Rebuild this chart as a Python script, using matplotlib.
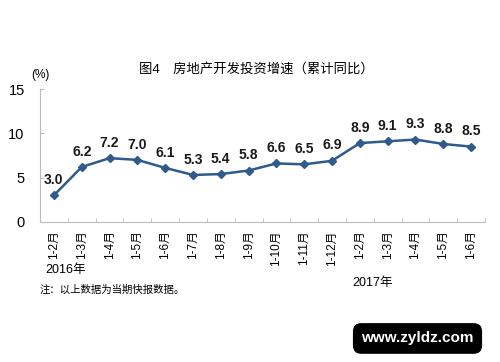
import matplotlib.pyplot as plt
import numpy as np

plt.rcParams['font.family'] = ['Liberation Sans', 'Noto Sans CJK SC', 'DejaVu Sans']

months = ['1-2月', '1-3月', '1-4月', '1-5月', '1-6月', '1-7月', '1-8月', '1-9月',
          '1-10月', '1-11月', '1-12月', '1-2月', '1-3月', '1-4月', '1-5月', '1-6月']
growth = [3.0, 6.2, 7.2, 7.0, 6.1, 5.3, 5.4, 5.8, 6.6, 6.5, 6.9, 8.9, 9.1, 9.3, 8.8, 8.5]
yticks = [0, 5, 10, 15]

fig = plt.figure(figsize=(5, 3.62), dpi=100)
ax = fig.add_axes([0.08, 0.387, 0.89, 0.367])

x = np.arange(len(months))
ax.plot(x, growth, color='#2F5A8C', lw=1.8, marker='D', ms=4.5, mfc='#2F5A8C', mec='#2F5A8C')
for xi, v in zip(x, growth):
    ax.annotate(f'{v:.1f}', (xi, v), xytext=(0, 6), textcoords='offset points',
                ha='center', va='bottom', fontsize=10, fontweight='bold', color='#1a1a1a')

ax.set_xlim(-0.45, len(months) - 0.55)
ax.set_ylim(0, 15)
ax.set_yticks(yticks)
ax.set_yticklabels([str(t) for t in yticks], fontsize=10.5)
ax.set_xticks(x)
ax.set_xticklabels(months, rotation=90, fontsize=8.5)
ax.set_xticks(np.arange(-0.5, len(months), 1), minor=True)
ax.tick_params(axis='x', which='major', length=0, pad=6)
ax.tick_params(axis='x', which='minor', direction='in', length=3, color='#bbbbbb')
ax.tick_params(axis='y', direction='in', length=3, color='#bbbbbb', pad=11)

for s in ['top', 'right']:
    ax.spines[s].set_visible(False)
for s in ['left', 'bottom']:
    ax.spines[s].set_color('#bbbbbb')

fig.text(0.512, 0.80, '图4　房地产开发投资增速（累计同比）', ha='center', fontsize=9.6)
fig.text(0.062, 0.785, '(%)', fontsize=8.5)
fig.text(0.09, 0.245, '2016年', fontsize=9)
fig.text(0.705, 0.21, '2017年', fontsize=9)
fig.text(0.08, 0.19, '注：以上数据为当期快报数据。', fontsize=7.5)
fig.text(0.835, 0.065, 'www.zyldz.com', ha='center', va='center', fontsize=11,
         fontweight='bold', color='white',
         bbox=dict(boxstyle='round,pad=0.5', fc='black', ec='black'))

fig.savefig('out.png', dpi=100)
